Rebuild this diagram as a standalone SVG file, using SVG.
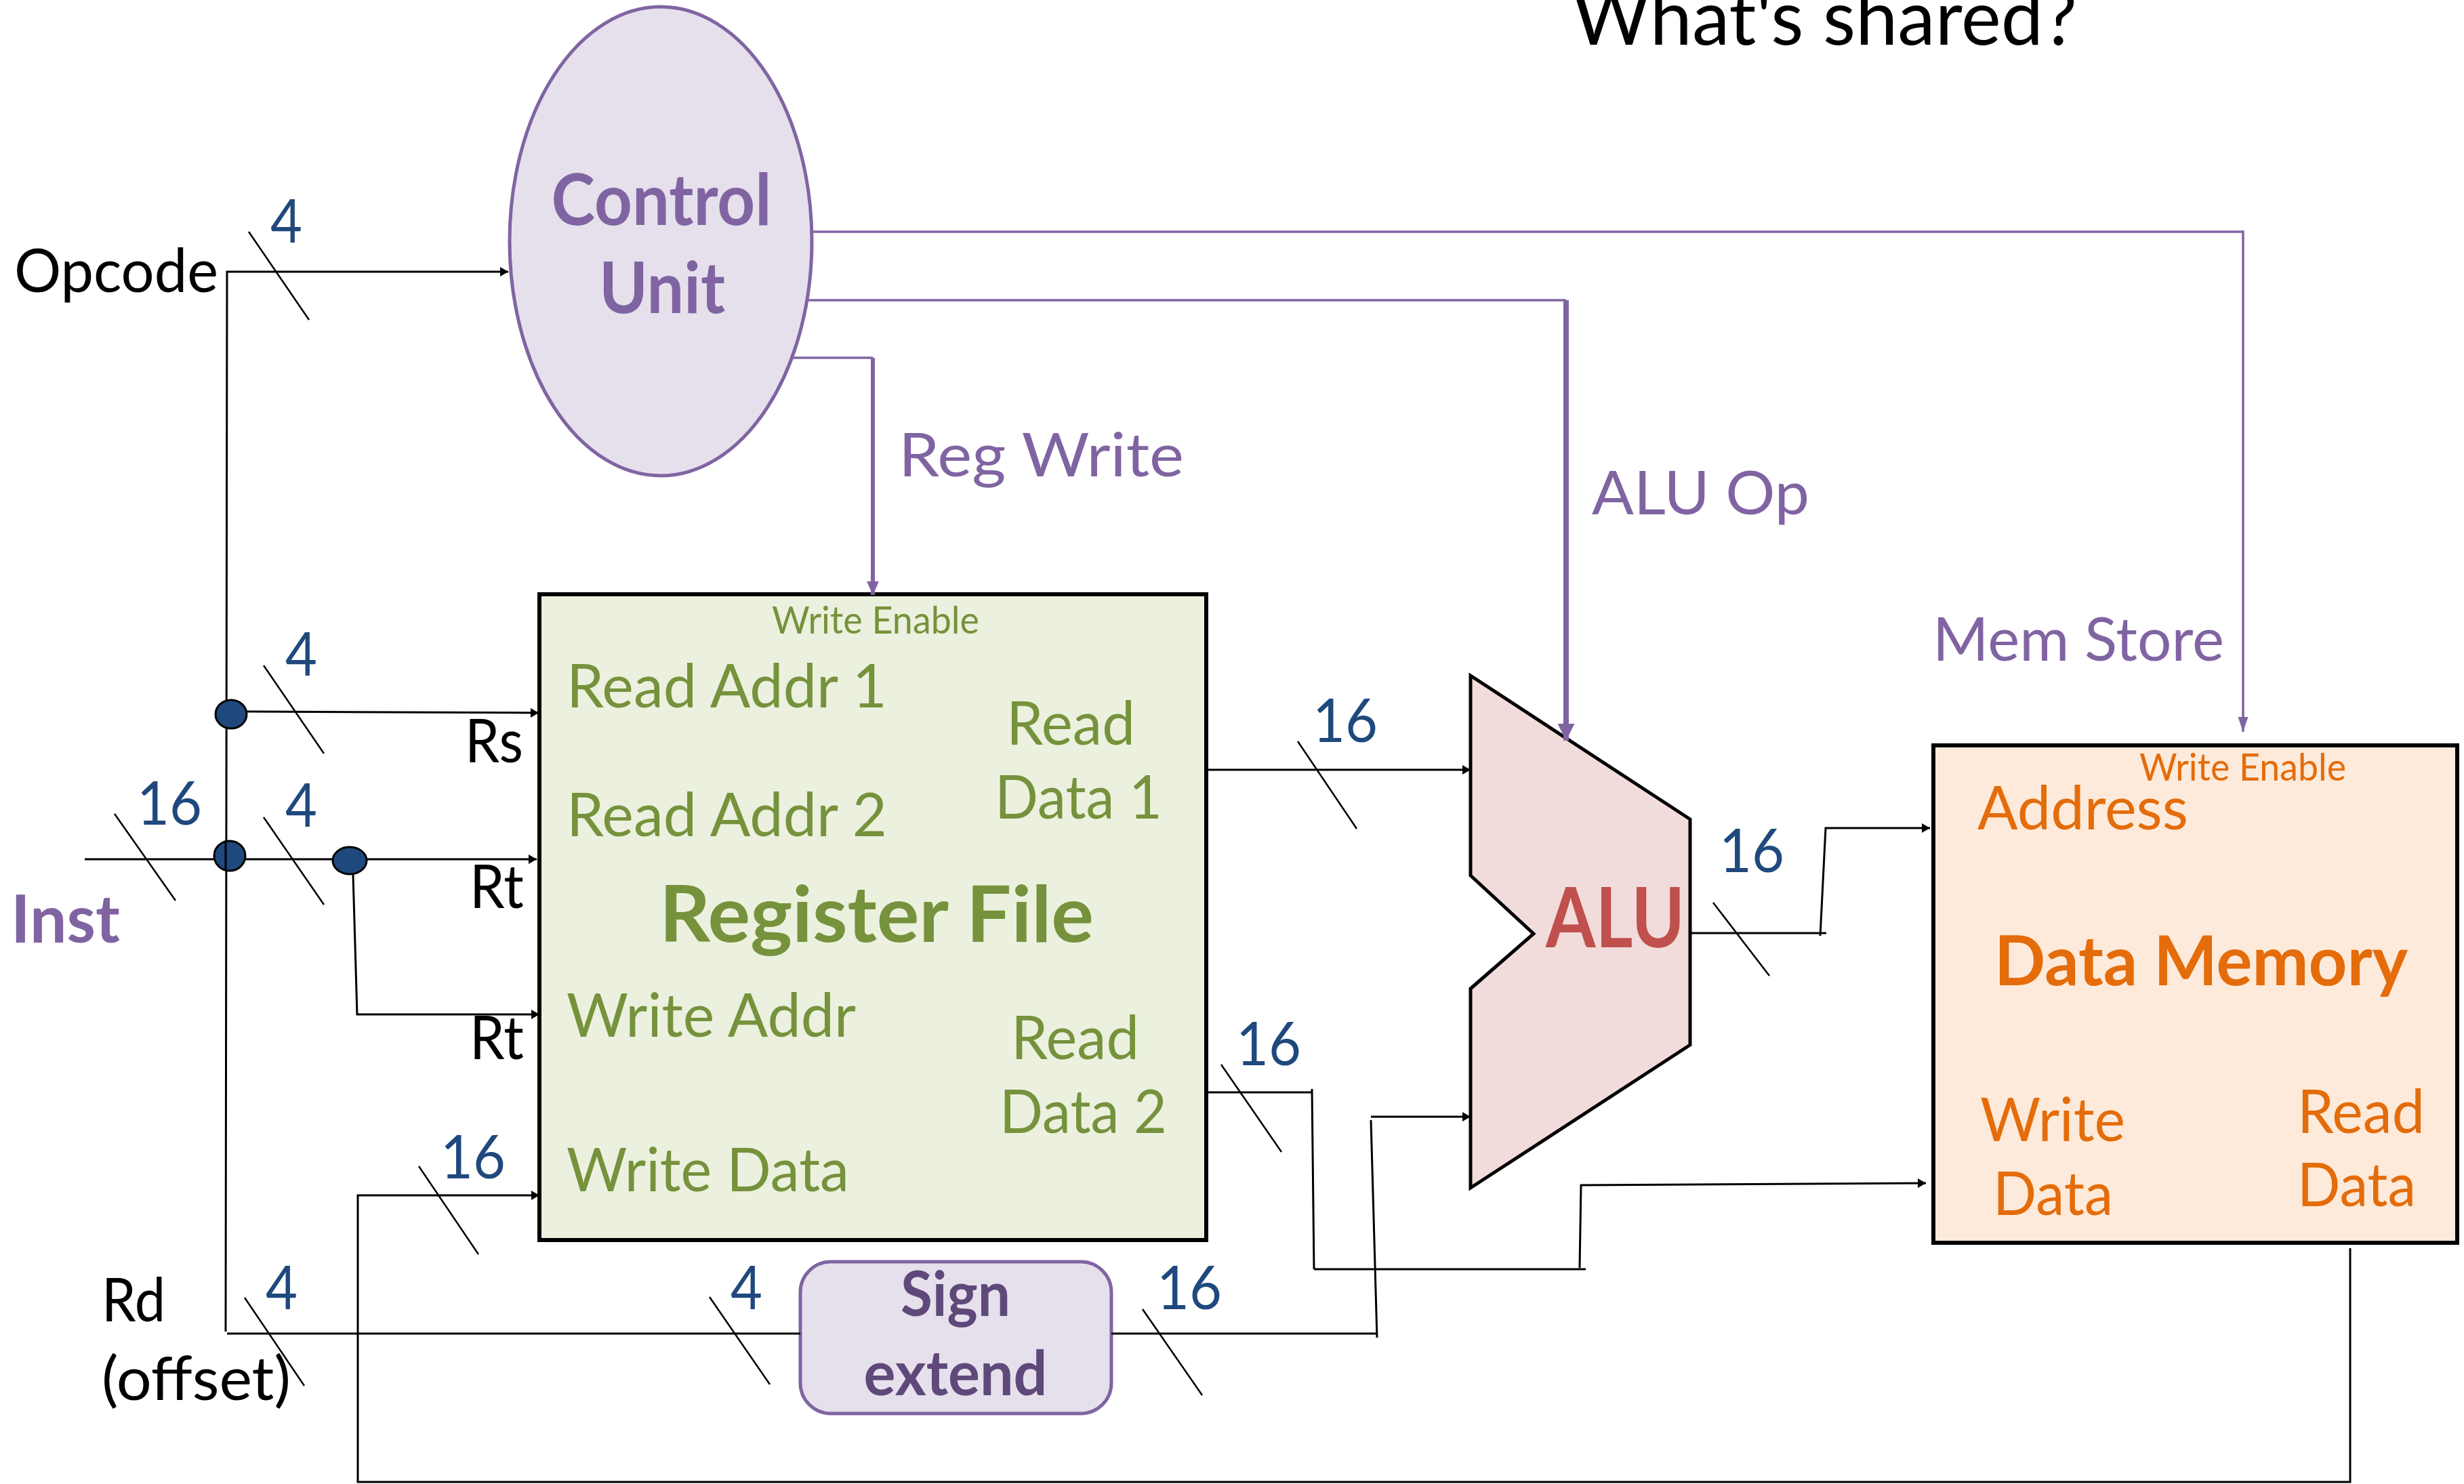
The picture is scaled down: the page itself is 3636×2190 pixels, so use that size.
<svg xmlns="http://www.w3.org/2000/svg" width="3636" height="2190" viewBox="0 0 3636 2190">
<style>
text{font-family:Lato,"Open Sans","Liberation Sans",sans-serif;font-size:90px}
.b{font-weight:700}
.k{fill:#000}.p{fill:#8064A2}.g{fill:#76923C}.o{fill:#E46C0A}.n{fill:#1F497D}
.c{text-anchor:middle}
.w{fill:none;stroke:#000;stroke-width:3}
.t{fill:none;stroke:#000;stroke-width:2.5}
.v{fill:none;stroke:#8064A2;stroke-width:3.5}
.v2{fill:none;stroke:#8064A2;stroke-width:6}
.v3{fill:none;stroke:#8064A2;stroke-width:8}
.d{fill:#1F497D;stroke:#000;stroke-width:3}
</style>
<defs>
<marker id="a" markerUnits="userSpaceOnUse" viewBox="0 0 12 14" markerWidth="12" markerHeight="14" refX="12" refY="7" orient="auto"><path d="M0 0L12 7L0 14Z" fill="#000"/></marker>
<marker id="pa" markerUnits="userSpaceOnUse" viewBox="0 0 22 15" markerWidth="22" markerHeight="15" refX="22" refY="7.5" orient="auto"><path d="M0 0L22 7.5L0 15Z" fill="#8064A2"/></marker>
<marker id="pc" markerUnits="userSpaceOnUse" viewBox="0 0 20 18" markerWidth="20" markerHeight="18" refX="20" refY="9" orient="auto"><path d="M0 0L20 9L0 18Z" fill="#8064A2"/></marker>
<marker id="pb" markerUnits="userSpaceOnUse" viewBox="0 0 25 25" markerWidth="25" markerHeight="25" refX="25" refY="12.5" orient="auto"><path d="M0 0L25 12.5L0 25Z" fill="#8064A2"/></marker>
</defs>
<g id="title"><text x="2320" y="66" style="font-size:112px" textLength="745" lengthAdjust="spacingAndGlyphs">What's shared?</text></g>
<g id="control-unit">
<ellipse cx="975" cy="356" rx="223" ry="346" fill="#E6E0EC" stroke="#8064A2" stroke-width="5"/>
<text class="p b c" x="976" y="332" style="font-size:106px" textLength="325" lengthAdjust="spacingAndGlyphs">Control</text>
<text class="p b c" x="977" y="462" style="font-size:106px" textLength="186" lengthAdjust="spacingAndGlyphs">Unit</text>
</g>
<g id="register-file">
<rect x="796" y="877" width="984" height="953" fill="#EBF1DE" stroke="#000" stroke-width="6"/>
<text class="g" x="1139" y="935" style="font-size:56px" textLength="306" lengthAdjust="spacingAndGlyphs">Write Enable</text>
<text class="g" x="836" y="1044" textLength="473" lengthAdjust="spacingAndGlyphs">Read Addr 1</text>
<text class="g" x="836" y="1234" textLength="473" lengthAdjust="spacingAndGlyphs">Read Addr 2</text>
<text class="g" x="836" y="1530" textLength="427" lengthAdjust="spacingAndGlyphs">Write Addr</text>
<text class="g" x="836" y="1758" textLength="417" lengthAdjust="spacingAndGlyphs">Write Data</text>
<text class="g" x="1485" y="1099" textLength="190" lengthAdjust="spacingAndGlyphs">Read</text>
<text class="g" x="1468" y="1208" textLength="247" lengthAdjust="spacingAndGlyphs">Data 1</text>
<text class="g" x="1492" y="1563" textLength="189" lengthAdjust="spacingAndGlyphs">Read</text>
<text class="g" x="1475" y="1672" textLength="247" lengthAdjust="spacingAndGlyphs">Data 2</text>
<text class="g b" x="973" y="1390" style="font-size:114px" textLength="641" lengthAdjust="spacingAndGlyphs">Register File</text>
</g>
<g id="alu">
<polygon points="2170,997 2494,1209 2494,1542 2170,1753 2170,1459 2263,1378 2170,1292" fill="#F2DCDB" stroke="#000" stroke-width="5"/>
<text class="b" x="2281" y="1398" style="font-size:122px;fill:#C0504D" textLength="205" lengthAdjust="spacingAndGlyphs">ALU</text>
</g>
<g id="data-memory">
<rect x="2853" y="1100" width="773" height="734" fill="#FDEADA" stroke="#000" stroke-width="6"/>
<text class="o" x="3157" y="1152" style="font-size:56px" textLength="305" lengthAdjust="spacingAndGlyphs">Write Enable</text>
<text class="o" x="2918" y="1224" textLength="311" lengthAdjust="spacingAndGlyphs">Address</text>
<text class="o b" x="2943" y="1454" style="font-size:102px" textLength="610" lengthAdjust="spacingAndGlyphs">Data Memory</text>
<text class="o" x="2922" y="1684" textLength="214" lengthAdjust="spacingAndGlyphs">Write</text>
<text class="o" x="2941" y="1793" textLength="177" lengthAdjust="spacingAndGlyphs">Data</text>
<text class="o" x="3390" y="1672" textLength="188" lengthAdjust="spacingAndGlyphs">Read</text>
<text class="o" x="3390" y="1780" textLength="175" lengthAdjust="spacingAndGlyphs">Data</text>
</g>
<g id="sign-extend">
<rect x="1181" y="1862" width="459" height="224" rx="45" fill="#E6E0EC" stroke="#8064A2" stroke-width="5"/>
<text class="b c" x="1410" y="1942" style="font-size:92px;fill:#5F497A" textLength="162" lengthAdjust="spacingAndGlyphs">Sign</text>
<text class="b c" x="1410" y="2059" style="font-size:92px;fill:#5F497A" textLength="271" lengthAdjust="spacingAndGlyphs">extend</text>
</g>
<g id="connectors">
<path class="w" d="M333 1965L335 401H750" marker-end="url(#a)"/>
<path class="w" d="M364 1050L795 1052" marker-end="url(#a)"/>
<path class="w" d="M125 1268H792" marker-end="url(#a)"/>
<path class="w" d="M521 1291L527 1497H796" marker-end="url(#a)"/>
<path class="w" d="M3468 1842V2187H528V1764H796" marker-end="url(#a)"/>
<path class="w" d="M335 1968H1181"/>
<path class="w" d="M1640 1968H2032M2032 1974L2023 1653M2023 1648H2170" marker-end="url(#a)"/>
<path class="w" d="M1781 1136H2170" marker-end="url(#a)"/>
<path class="w" d="M1781 1612H1937M1936 1607L1939 1873M1939 1873H2340M2331 1871L2333 1749L2842 1746" marker-end="url(#a)"/>
<path class="w" d="M2494 1377H2695M2686 1381L2694 1222H2848" marker-end="url(#a)"/>
<path class="v" d="M1200 342H3310V1080" marker-end="url(#pa)"/>
<path class="v" d="M1192 443H2311"/>
<path class="v3" d="M2311 443V1093" marker-end="url(#pb)"/>
<path class="v" d="M1170 528H1288"/>
<path class="v2" d="M1288 528V878" marker-end="url(#pc)"/>
<path class="t" d="M367 342L456 472M389 982L478 1112M169 1201L259 1329M389 1206L478 1335M618 1721L706 1851M361 1915L449 2045M1047 1914L1136 2043M1686 1932L1774 2059M1915 1094L2002 1223M1802 1571L1891 1700M2528 1332L2611 1440"/>
<ellipse class="d" cx="341" cy="1054" rx="23" ry="21"/>
<ellipse class="d" cx="339" cy="1263" rx="23" ry="22"/>
<path class="w" d="M333 1240V1285"/>
<ellipse class="d" cx="516" cy="1270" rx="25" ry="20"/>
</g>
<g id="labels">
<text class="k" x="21" y="431" textLength="301" lengthAdjust="spacingAndGlyphs">Opcode</text>
<text class="k" x="686" y="1125" textLength="86" lengthAdjust="spacingAndGlyphs">Rs</text>
<text class="k" x="693" y="1340" textLength="80" lengthAdjust="spacingAndGlyphs">Rt</text>
<text class="k" x="693" y="1563" textLength="80" lengthAdjust="spacingAndGlyphs">Rt</text>
<text class="p b" x="16" y="1391" style="font-size:98px" textLength="161" lengthAdjust="spacingAndGlyphs">Inst</text>
<text class="k" x="150" y="1950" textLength="94" lengthAdjust="spacingAndGlyphs">Rd</text>
<text class="k" x="150" y="2066" textLength="279" lengthAdjust="spacingAndGlyphs">(offset)</text>
<text class="p" x="1326" y="703" textLength="421" lengthAdjust="spacingAndGlyphs">Reg Write</text>
<text class="p" x="2349" y="759" textLength="321" lengthAdjust="spacingAndGlyphs">ALU Op</text>
<text class="p" x="2852" y="975" textLength="430" lengthAdjust="spacingAndGlyphs">Mem Store</text>
<text class="n" x="399" y="358" textLength="47" lengthAdjust="spacingAndGlyphs">4</text>
<text class="n" x="421" y="997" textLength="47" lengthAdjust="spacingAndGlyphs">4</text>
<text class="n" x="202" y="1217" textLength="96" lengthAdjust="spacingAndGlyphs">16</text>
<text class="n" x="421" y="1220" textLength="47" lengthAdjust="spacingAndGlyphs">4</text>
<text class="n" x="650" y="1739" textLength="96" lengthAdjust="spacingAndGlyphs">16</text>
<text class="n" x="392" y="1932" textLength="47" lengthAdjust="spacingAndGlyphs">4</text>
<text class="n" x="1078" y="1932" textLength="47" lengthAdjust="spacingAndGlyphs">4</text>
<text class="n" x="1707" y="1932" textLength="96" lengthAdjust="spacingAndGlyphs">16</text>
<text class="n" x="1937" y="1095" textLength="96" lengthAdjust="spacingAndGlyphs">16</text>
<text class="n" x="1824" y="1572" textLength="96" lengthAdjust="spacingAndGlyphs">16</text>
<text class="n" x="2537" y="1287" textLength="96" lengthAdjust="spacingAndGlyphs">16</text>
</g>
</svg>
